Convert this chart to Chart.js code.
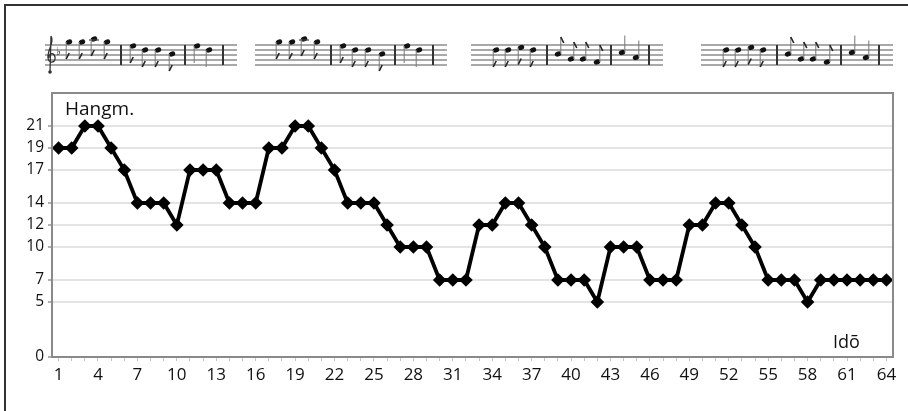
<!DOCTYPE html>
<html>
<head>
<meta charset="utf-8">
<script src="https://cdn.jsdelivr.net/npm/chart.js@4.4.1/dist/chart.umd.min.js"></script>
<style>
  html, body { margin: 0; padding: 0; background: #fff; }
  #wrap { width: 908px; height: 411px; position: relative; }
</style>
</head>
<body>
<div id="wrap"><canvas id="chart" width="908" height="411"></canvas></div>
<script>
// time steps (Idõ) and pitch (Hangm.) values
const steps = ['1','2','3','4','5','6','7','8','9','10','11','12','13','14','15','16',
  '17','18','19','20','21','22','23','24','25','26','27','28','29','30','31','32',
  '33','34','35','36','37','38','39','40','41','42','43','44','45','46','47','48',
  '49','50','51','52','53','54','55','56','57','58','59','60','61','62','63','64']
const pitch = [19,19,21,21,19,17,14,14,14,12,17,17,17,14,14,14,
  19,19,21,21,19,17,14,14,14,12,10,10,10,7,7,7,
  12,12,14,14,12,10,7,7,7,5,10,10,10,7,7,7,
  12,12,14,14,12,10,7,7,7,5,7,7,7,7,7,7]
const yTicks = [0, 5, 7, 10, 12, 14, 17, 19, 21]
const yLabel = 'Hangm.'
const xLabel = 'Idõ'

// decoration: the four little staves above the plot
const staffLeft = [45, 255, 471, 701]
const staffWidth = 192
const barOffsets = [76, 140, 178]
const notesHigh = [[24,9.2],[37,9.2],[49,10.4],[62,9.2],[88,7.6],[100,6],[113,6],[127,4.4],[152,7.6],[164,6]]
const notesLow = [[25,6],[37,6],[50,7],[62,6],[87,4.4],[100,2.4],[112,2.4],[126,1.2],[151,5],[165,3]]

function drawStaff(ctx, x0, notes, upFrom, clef) {
  const top = 45
  ctx.save()
  ctx.strokeStyle = '#555'
  ctx.lineWidth = 1.2
  for (let k = 0; k < 5; k++) {
    ctx.beginPath()
    ctx.moveTo(x0, top + 5 * k)
    ctx.lineTo(x0 + staffWidth, top + 5 * k)
    ctx.stroke()
  }
  ctx.strokeStyle = '#333'
  ctx.lineWidth = 2
  barOffsets.forEach(off => {
    ctx.beginPath()
    ctx.moveTo(x0 + off, top)
    ctx.lineTo(x0 + off, top + 20)
    ctx.stroke()
  })
  if (clef) {
    ctx.lineWidth = 1.3
    ctx.beginPath()
    ctx.moveTo(x0 + 6, 36)
    ctx.bezierCurveTo(x0 + 10, 42, x0 + 2, 50, x0 + 3, 58)
    ctx.bezierCurveTo(x0 + 4, 64, x0 + 11, 63, x0 + 10, 57)
    ctx.bezierCurveTo(x0 + 9, 52, x0 + 3, 53, x0 + 4, 58)
    ctx.moveTo(x0 + 6, 36)
    ctx.lineTo(x0 + 5, 72)
    ctx.stroke()
    ctx.fillStyle = '#333'
    ctx.beginPath()
    ctx.arc(x0 + 5, 72, 1.8, 0, Math.PI * 2)
    ctx.fill()
    ctx.font = '11px "DejaVu Sans"'
    ctx.fillText('♭', x0 + 11, 55)
  }
  notes.forEach(([dx, step], i) => {
    const x = x0 + dx
    const y = top + 20 - step * 2.5
    const up = i >= upFrom
    ctx.fillStyle = '#111'
    ctx.beginPath()
    ctx.ellipse(x, y, 3.3, 2.5, -0.4, 0, Math.PI * 2)
    ctx.fill()
    if (step >= 10) {
      ctx.strokeStyle = '#444'
      ctx.lineWidth = 1.2
      ctx.beginPath()
      ctx.moveTo(x - 5, top - 5)
      ctx.lineTo(x + 5, top - 5)
      ctx.stroke()
    }
    ctx.strokeStyle = '#777'
    ctx.lineWidth = 1
    const sx = up ? x + 2.8 : x - 2.8
    const ey = up ? y - 17 : y + 17
    ctx.beginPath()
    ctx.moveTo(sx, y)
    ctx.lineTo(sx, ey)
    ctx.stroke()
    if (i < 8) {
      ctx.lineWidth = 1.6
      ctx.strokeStyle = '#222'
      ctx.beginPath()
      ctx.moveTo(sx, ey)
      ctx.lineTo(sx + 3, up ? ey + 6 : ey - 6)
      ctx.stroke()
    }
  })
  ctx.restore()
}

const decor = {
  id: 'decor',
  afterDraw(chart) {
    const ctx = chart.ctx
    const a = chart.chartArea
    ctx.save()
    // plot frame
    ctx.strokeStyle = '#8a8a8a'
    ctx.lineWidth = 2
    ctx.strokeRect(a.left, a.top, a.right - a.left, a.bottom - a.top)
    // outer frame (top and left)
    ctx.strokeStyle = '#333'
    ctx.lineWidth = 2
    ctx.beginPath()
    ctx.moveTo(5, 411)
    ctx.lineTo(5, 5)
    ctx.lineTo(908, 5)
    ctx.stroke()
    // axis names inside the plot
    ctx.fillStyle = '#111'
    ctx.font = '19px "Open Sans"'
    ctx.textBaseline = 'alphabetic'
    ctx.textAlign = 'left'
    ctx.fillText(yLabel, a.left + 13, a.top + 22)
    ctx.font = '18px "Open Sans"'
    ctx.fillText(xLabel, a.right - 60, a.bottom - 9)
    ctx.restore()
    drawStaff(ctx, staffLeft[0], notesHigh, 99, true)
    drawStaff(ctx, staffLeft[1], notesHigh, 99, false)
    drawStaff(ctx, staffLeft[2], notesLow, 4, false)
    drawStaff(ctx, staffLeft[3], notesLow, 4, false)
  }
}

const ctx = document.getElementById('chart').getContext('2d')
new Chart(ctx, {
  type: 'line',
  data: {
    labels: steps,
    datasets: [{
      data: pitch,
      borderColor: '#000',
      borderWidth: 3.8,
      pointStyle: 'rectRot',
      pointRadius: 6.8,
      pointBackgroundColor: '#000',
      pointBorderColor: '#000',
      pointBorderWidth: 0,
      tension: 0,
      clip: false
    }]
  },
  options: {
    responsive: false,
    animation: false,
    devicePixelRatio: 1,
    layout: { padding: { left: 0, top: 93, right: 15, bottom: 14 } },
    plugins: {
      legend: { display: false },
      tooltip: { enabled: false }
    },
    scales: {
      x: {
        type: 'category',
        offset: true,
        grid: { drawOnChartArea: false, drawTicks: true, tickLength: 4, color: '#c4c4c4' },
        border: { display: true, color: '#8a8a8a', width: 2 },
        ticks: {
          autoSkip: false,
          maxRotation: 0,
          color: '#111',
          padding: 4,
          font: { family: 'Open Sans', size: 17 },
          callback: (v, i) => (i % 3 === 0 ? steps[i] : '')
        },
        afterFit: s => { s.height = 40 }
      },
      y: {
        min: 0,
        max: 24,
        afterBuildTicks: s => { s.ticks = yTicks.map(value => ({ value })) },
        grid: { color: '#e4e4e4', lineWidth: 2, tickLength: 4, tickColor: '#b0b0b0' },
        border: { display: true, color: '#8a8a8a', width: 2 },
        ticks: {
          color: '#111',
          padding: 4,
          font: { family: 'Open Sans', size: 15.5 }
        },
        afterFit: s => { s.width = 52 }
      }
    }
  },
  plugins: [decor]
})
</script>
</body>
</html>
